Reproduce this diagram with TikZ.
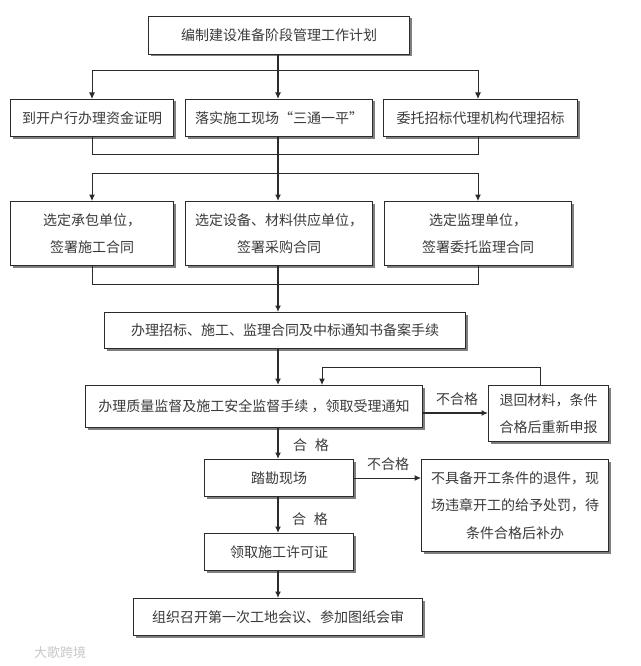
\documentclass[tikz,border=0pt]{standalone}
\usepackage{fontspec}
\setmainfont{Noto Sans CJK SC}
\usetikzlibrary{arrows.meta,shadows}
\definecolor{ink}{HTML}{2B2B2B}
\definecolor{txt}{HTML}{3A3A3A}
\tikzset{
  x=1pt,y=-1pt,
  box/.style={draw=ink,line width=1pt,fill=white,text=txt,inner sep=0pt,align=center,font=\fontsize{14}{27.5}\selectfont,
    drop shadow={shadow xshift=2pt,shadow yshift=-2pt,fill=black,opacity=.5}},
  link/.style={draw=ink,line width=1pt},
  flow/.style={link,-{Latex[length=6.5pt,width=6pt]}},
  trunk/.style={flow,line width=1.3pt},
  tag/.style={text=txt,inner sep=0pt,font=\fontsize{14}{16}\selectfont},
  wmark/.style={text=black!22,inner sep=0pt,font=\fontsize{13}{14}\selectfont}
}
\newcommand{\bx}[6]{\node[box,minimum width=#4pt-#2pt,minimum height=#5pt-#3pt,anchor=north west] (#1) at (#2,#3) {#6};}
\begin{document}
\begin{tikzpicture}
\useasboundingbox (0,0) rectangle (640,666);
\bx{top}{148}{16}{409}{54}{编制建设准备阶段管理工作计划}
\bx{aa}{10}{99}{173}{136}{到开户行办理资金证明}
\bx{ab}{185}{99}{372}{136}{落实施工现场“三通一平”}
\bx{ac}{383}{99}{577}{136}{委托招标代理机构代理招标}
\bx{ba}{10}{201}{173}{265}{选定承包单位，\\签署施工合同}
\bx{bb}{185}{201}{372}{265}{选定设备、材料供应单位，\\签署采购合同}
\bx{bc}{384}{201}{571}{265}{选定监理单位，\\签署委托监理合同}
\bx{rec}{104}{312}{465}{348}{办理招标、施工、监理合同及中标通知书备案手续}
\bx{qua}{85}{385}{422}{427}{办理质量监督及施工安全监督手续 ，领取受理通知}
\bx{ret}{488}{385}{608}{441}{退回材料，条件\\合格后重新申报}
\bx{site}{204}{459}{353}{496}{踏勘现场}
\bx{rej}{421}{459}{608}{551}{不具备开工条件的退件，现\\场违章开工的给予处罚，待\\条件合格后补办}
\bx{lic}{204}{533}{353}{570}{领取施工许可证}
\bx{meet}{133}{598}{422}{635}{组织召开第一次工地会议、参加图纸会审}
\coordinate (s1) at (278,71);
\coordinate (s1l) at (92,71);
\coordinate (s1r) at (478,71);
\coordinate (m1) at (278,154);
\coordinate (m1l) at (92,154);
\coordinate (m1r) at (478,154);
\coordinate (s2) at (278,173);
\coordinate (s2l) at (92,173);
\coordinate (s2r) at (478,173);
\coordinate (m2) at (278,284);
\coordinate (m2l) at (92,284);
\coordinate (m2r) at (478,284);
\coordinate (back) at (540,367);
\coordinate (backl) at (322,367);
\draw[trunk] (top.south -| s1) -- (ab.north -| s1);
\draw[flow] (s1) -- (s1l) -- (aa.north -| s1l);
\draw[flow] (s1) -- (s1r) -- (ac.north -| s1r);
\draw[link] (aa.south -| m1l) -- (m1l) -- (m1r) -- (ac.south -| m1r);
\draw[link,line width=1.3pt] (ab.south -| m1) -- (m1);
\draw[trunk] (m1) -- (bb.north -| m1);
\draw[flow] (s2) -- (s2l) -- (ba.north -| s2l);
\draw[flow] (s2) -- (s2r) -- (bc.north -| s2r);
\draw[link] (ba.south -| m2l) -- (m2l) -- (m2r) -- (bc.south -| m2r);
\draw[link,line width=1.3pt] (bb.south -| m2) -- (m2);
\draw[trunk] (m2) -- (rec.north -| m2);
\draw[trunk] (rec.south -| m2) -- (qua.north -| m2);
\draw[trunk] (qua.south -| m2) -- (site.north -| m2);
\node[tag] (q1) at (311,445) {合\hspace{8pt}格};
\draw[trunk] (site.south -| m2) -- (lic.north -| m2);
\node[tag] (q2) at (310,519) {合\hspace{8pt}格};
\draw[trunk] (lic.south -| m2) -- (meet.north -| m2);
\coordinate (qr) at (422,413);
\draw[trunk] (qr) -- (ret.west |- qr);
\node[tag] (n1) at (457,399) {不合格};
\coordinate (sr) at (353,478);
\draw[flow] (sr) -- (rej.west |- sr);
\node[tag] (n2) at (388,464) {不合格};
\draw[flow] (ret.north -| back) -- (back) -- (backl) -- (qua.north -| backl);
\node[wmark] (wm) at (60,653) {大歌跨境};
\end{tikzpicture}
\end{document}
